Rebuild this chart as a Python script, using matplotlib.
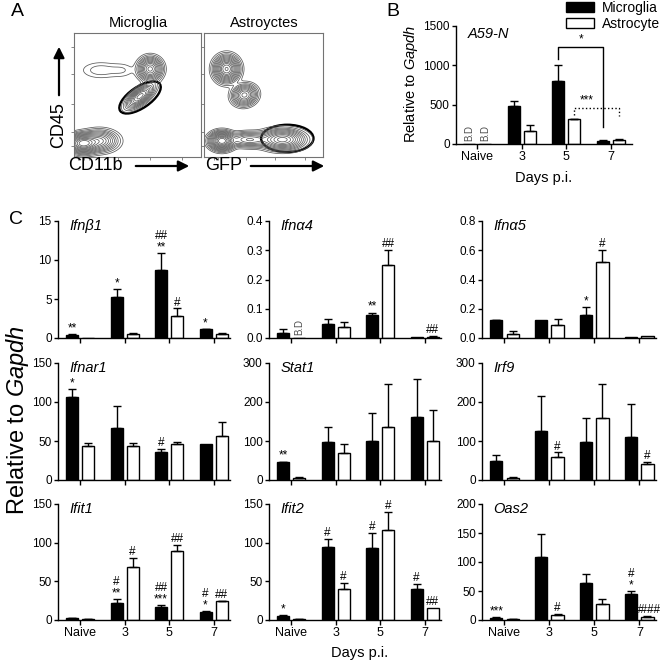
import numpy as np
import matplotlib
matplotlib.use('Agg')
import matplotlib.pyplot as plt
from matplotlib.patches import Ellipse, Patch, FancyArrowPatch
from matplotlib.ticker import FormatStrFormatter

plt.rcParams['font.family'] = ['Liberation Sans', 'DejaVu Sans']
plt.rcParams['mathtext.fontset'] = 'custom'
plt.rcParams['mathtext.rm'] = 'Liberation Sans'
plt.rcParams['mathtext.it'] = 'Liberation Sans:italic'

days = ['Naive', '3', '5', '7']

# ---- panel A: cell populations (centre, spread, tilt, peak) in plot fractions
mg_cx = [0.07, 0.20, 0.60, 0.52, 0.21, 0.38]
mg_cy = [0.11, 0.13, 0.71, 0.49, 0.70, 0.70]
mg_sx = [0.06, 0.07, 0.045, 0.065, 0.09, 0.06]
mg_sy = [0.037, 0.042, 0.045, 0.028, 0.04, 0.035]
mg_tilt = [0, 0, 25, 40, 0, 0]
mg_peak = [1.0, 0.45, 0.7, 0.6, 0.04, 0.025]

as_cx = [0.19, 0.34, 0.15, 0.38, 0.66]
as_cy = [0.71, 0.50, 0.13, 0.14, 0.14]
as_sx = [0.05, 0.05, 0.05, 0.09, 0.09]
as_sy = [0.05, 0.04, 0.035, 0.03, 0.04]
as_tilt = [0, 10, 0, 0, 0]
as_peak = [0.8, 0.5, 0.9, 0.3, 0.6]

mg_gate = (0.52, 0.48, 0.38, 0.17, 35)   # x, y, width, height, angle
as_gate = (0.70, 0.15, 0.44, 0.22, 0)

# ---- panel B: A59-N viral RNA
b_mg = [0, 480, 800, 40]
b_mg_sem = [0, 70, 210, 12]
b_as = [0, 170, 315, 55]
b_as_sem = [0, 75, 5, 5]
b_bd = [True, False, False, False]
b_solid = (1086, 1234, 220)    # left leg bottom, bar height, right leg bottom
b_dotted = (368, 460, 355)

# ---- panel C: interferon pathway genes
genes = ['Ifnβ1', 'Ifnα4', 'Ifnα5', 'Ifnar1', 'Stat1', 'Irf9', 'Ifit1', 'Ifit2', 'Oas2']
ymax = [15, 0.4, 0.8, 150, 300, 300, 150, 150, 200]
ystep = [5, 0.1, 0.2, 50, 100, 100, 50, 50, 50]
mg_mean = [[0.4, 5.2, 8.7, 1.1], [0.017, 0.049, 0.08, 0.002], [0.12, 0.12, 0.16, 0.005],
           [107, 67, 36, 46], [45, 98, 100, 162], [50, 125, 98, 110],
           [2, 22, 17, 10], [5, 94, 93, 40], [4, 109, 64, 45]]
mg_sem = [[0.05, 1.1, 2.2, 0.05], [0.015, 0.017, 0.007, 0], [0.005, 0, 0.05, 0],
          [10, 28, 4, 0], [2, 38, 72, 98], [14, 90, 61, 85],
          [0.3, 5, 2, 1], [1, 11, 20, 7], [0.5, 39, 15, 5]]
as_mean = [[0.05, 0.5, 2.8, 0.5], [0, 0.038, 0.248, 0.005], [0.03, 0.09, 0.52, 0.012],
           [43, 43, 46, 57], [6, 70, 136, 99], [6, 59, 158, 40],
           [1, 68, 89, 24], [1, 40, 117, 15.5], [1, 9, 27, 6]]
as_sem = [[0, 0.1, 1.0, 0.1], [0, 0.015, 0.052, 0.001], [0.02, 0.04, 0.08, 0],
          [4, 4, 3, 17], [1, 23, 109, 80], [1, 12, 88, 7],
          [0.2, 12, 8, 1], [0.2, 7.5, 23, 0], [0.2, 1.5, 9, 0.5]]
mg_marks = [['**', '*', '##\n**', '*'], ['', '', '**', ''], ['', '', '*', ''],
            ['*', '', '#', ''], ['**', '', '', ''], ['', '', '', ''],
            ['', '#\n**', '##\n***', '#\n*'], ['*', '#', '#', '#'], ['***', '', '', '#\n*']]
as_marks = [['', '', '#', ''], ['', '', '##', '##'], ['', '', '#', ''],
            ['', '', '', ''], ['', '', '', ''], ['', '#', '', '#'],
            ['', '#', '##', '##'], ['', '#', '#', '##'], ['', '#', '', '####']]
as_bd = [[False] * 4, [True, False, False, False]] + [[False] * 4] * 7

W, H = 660, 663
fig = plt.figure(figsize=(W / 100, H / 100), dpi=100)
OFF = 0.18
BW = 0.27


def box(left, top, right, bottom):
    return [left / W, 1 - bottom / H, (right - left) / W, (bottom - top) / H]


def ftext(x, y, s, **kw):
    fig.text(x / W, 1 - y / H, s, ha=kw.pop('ha', 'center'), va=kw.pop('va', 'center'), **kw)


def farrow(x0, y0, x1, y1):
    fig.add_artist(FancyArrowPatch((x0 / W, 1 - y0 / H), (x1 / W, 1 - y1 / H),
                                   transform=fig.transFigure, arrowstyle='-|>',
                                   mutation_scale=16, lw=1.6, color='black'))


def density(cx, cy, sx, sy, tilt, peak):
    g = np.linspace(0, 1, 260)
    X, Y = np.meshgrid(g, g)
    Z = np.zeros_like(X)
    for x0, y0, a, b, t, p in zip(cx, cy, sx, sy, tilt, peak):
        th = np.deg2rad(t)
        u = (X - x0) * np.cos(th) + (Y - y0) * np.sin(th)
        v = -(X - x0) * np.sin(th) + (Y - y0) * np.cos(th)
        Z += p * np.exp(-0.5 * ((u / a) ** 2 + (v / b) ** 2))
    return X, Y, Z


def flow_panel(rect, pops, gate):
    ax = fig.add_axes(rect)
    X, Y, Z = density(*pops)
    lv = Z.max() * np.array([0.012, 0.025, 0.045, 0.07, 0.1, 0.14, 0.19, 0.25,
                             0.32, 0.4, 0.5, 0.6, 0.72, 0.85])
    ax.contour(X, Y, Z, levels=lv, colors='0.35', linewidths=0.55)
    gx, gy, gw, gh, ga = gate
    ax.add_patch(Ellipse((gx, gy), gw, gh, angle=ga, transform=ax.transAxes,
                         fill=False, lw=1.7, ec='black'))
    ax.set_xlim(0, 1)
    ax.set_ylim(0, 1)
    for s in ax.spines.values():
        s.set_color('0.45')
        s.set_linewidth(0.8)
    ax.set_xticks([0.03, 0.08, 0.12, 0.35, 0.6, 0.85])
    ax.set_yticks([0.09, 0.2, 0.43, 0.67, 0.89])
    ax.tick_params(length=2, width=0.6, color='0.45', labelleft=False, labelbottom=False)
    return ax


def style_axes(ax):
    for s in ['top', 'right']:
        ax.spines[s].set_visible(False)
    for s in ['left', 'bottom']:
        ax.spines[s].set_linewidth(1.0)
    ax.tick_params(axis='y', length=3, width=1, labelsize=8.5, pad=1.5)
    ax.tick_params(axis='x', length=3.5, width=1, labelsize=9, pad=1.5)


def bars(ax, mg, mgs, ast, asts, bd):
    x = np.arange(len(days))
    ax.bar(x - OFF, mg, BW, color='black', edgecolor='black', lw=1, zorder=2)
    ax.bar(x + OFF, ast, BW, color='white', edgecolor='black', lw=1, zorder=2)
    for i in range(len(days)):
        for xx, m, s in ((x[i] - OFF, mg[i], mgs[i]), (x[i] + OFF, ast[i], asts[i])):
            if s > 0:
                ax.errorbar(xx, m, yerr=[[0], [s]], fmt='none', ecolor='black',
                            elinewidth=1, capsize=3, capthick=1, zorder=3)
    for i, flag in enumerate(bd):
        if flag:
            ax.annotate('B.D', (x[i] + OFF, 0), xytext=(0, 2), textcoords='offset points',
                        rotation=90, ha='center', va='bottom', fontsize=7, color='0.3')


def marks(ax, xs, tops, labels):
    for xx, t, lab in zip(xs, tops, labels):
        if lab:
            ax.annotate(lab, (xx, t), xytext=(0, 2), textcoords='offset points',
                        ha='center', va='baseline', fontsize=8.5, linespacing=0.95)


# ---------------- panel A
ftext(17, 12, 'A', fontsize=14)
flow_panel(box(74, 33, 201, 157), (mg_cx, mg_cy, mg_sx, mg_sy, mg_tilt, mg_peak), mg_gate)
flow_panel(box(204, 33, 323, 157), (as_cx, as_cy, as_sx, as_sy, as_tilt, as_peak), as_gate)
ftext(138, 23, 'Microglia', fontsize=10.5)
ftext(264, 23, 'Astroyctes', fontsize=10.5)
ftext(59, 125, 'CD45', fontsize=13, rotation=90)
farrow(59, 98, 59, 44)
ftext(95, 166, 'CD11b', fontsize=13)
farrow(133, 166, 192, 166)
ftext(224, 166, 'GFP', fontsize=13)
farrow(248, 166, 327, 166)

# ---------------- panel B
ftext(393, 11, 'B', fontsize=14)
axB = fig.add_axes(box(456, 26, 632, 144))
bars(axB, b_mg, b_mg_sem, b_as, b_as_sem, [False] * 4)
for i, flag in enumerate(b_bd):
    if flag:
        for xx in (i - OFF, i + OFF):
            axB.annotate('B.D', (xx, 0), xytext=(0, 2), textcoords='offset points',
                         rotation=90, ha='center', va='bottom', fontsize=7, color='0.3')
style_axes(axB)
axB.set_xlim(-0.47, 3.47)
axB.set_ylim(0, 1500)
axB.set_yticks([0, 500, 1000, 1500])
axB.set_xticks(np.arange(4))
axB.set_xticklabels(days)
axB.text(0.065, 0.99, 'A59-N', transform=axB.transAxes, style='italic', fontsize=10.5, va='top')
l0, top, r0 = b_solid
axB.plot([2 - OFF, 2 - OFF, 3 - OFF, 3 - OFF], [l0, top, top, r0], color='black', lw=1)
axB.text(2.32, top + 25, '*', ha='center', va='bottom', fontsize=8.5)
l0, top, r0 = b_dotted
axB.plot([2 + OFF, 2 + OFF, 3 + OFF, 3 + OFF], [l0, top, top, r0], color='black', lw=1, ls=':')
axB.text(2.45, top + 15, '***', ha='center', va='bottom', fontsize=8.5)
ftext(411, 84, 'Relative to $\\mathit{Gapdh}$', fontsize=10.5, rotation=90)
ftext(544, 178, 'Days p.i.', fontsize=10.5)
fig.legend(handles=[Patch(fc='black', ec='black'), Patch(fc='white', ec='black', lw=1)],
           labels=['Microglia', 'Astrocyte'], loc='upper left',
           bbox_to_anchor=(566 / W, 1 - 1 / H), frameon=False, fontsize=10,
           handlelength=2.0, handleheight=0.75, borderpad=0, borderaxespad=0,
           handletextpad=0.6, labelspacing=0.15)

# ---------------- panel C
ftext(16, 220, 'C', fontsize=14)
cols_l = [58, 269, 482]
cols_r = [230, 441, 656]
rows_t = [221, 363, 504]
rows_b = [338, 480, 620]
x = np.arange(4)
for k, gene in enumerate(genes):
    r, c = divmod(k, 3)
    ax = fig.add_axes(box(cols_l[c], rows_t[r], cols_r[c], rows_b[r]))
    bars(ax, mg_mean[k], mg_sem[k], as_mean[k], as_sem[k], as_bd[k])
    marks(ax, x - OFF, np.add(mg_mean[k], mg_sem[k]), mg_marks[k])
    marks(ax, x + OFF, np.add(as_mean[k], as_sem[k]), as_marks[k])
    style_axes(ax)
    ax.set_xlim(-0.5, 3.37)
    ax.set_ylim(0, ymax[k])
    ax.set_yticks(np.arange(0, ymax[k] + ystep[k] / 2, ystep[k]))
    ax.yaxis.set_major_formatter(FormatStrFormatter('%.1f' if ystep[k] < 1 else '%d'))
    ax.set_xticks(x)
    if r == 2:
        ax.set_xticklabels(days)
    else:
        ax.set_xticklabels([])
    ax.text(0.065, 1.02, gene, transform=ax.transAxes, style='italic', fontsize=10.5, va='top')

ftext(18, 420, 'Relative to $\\mathit{Gapdh}$', fontsize=17, rotation=90)
ftext(360, 653, 'Days p.i.', fontsize=10.5)

fig.savefig('out.png', dpi=100)
